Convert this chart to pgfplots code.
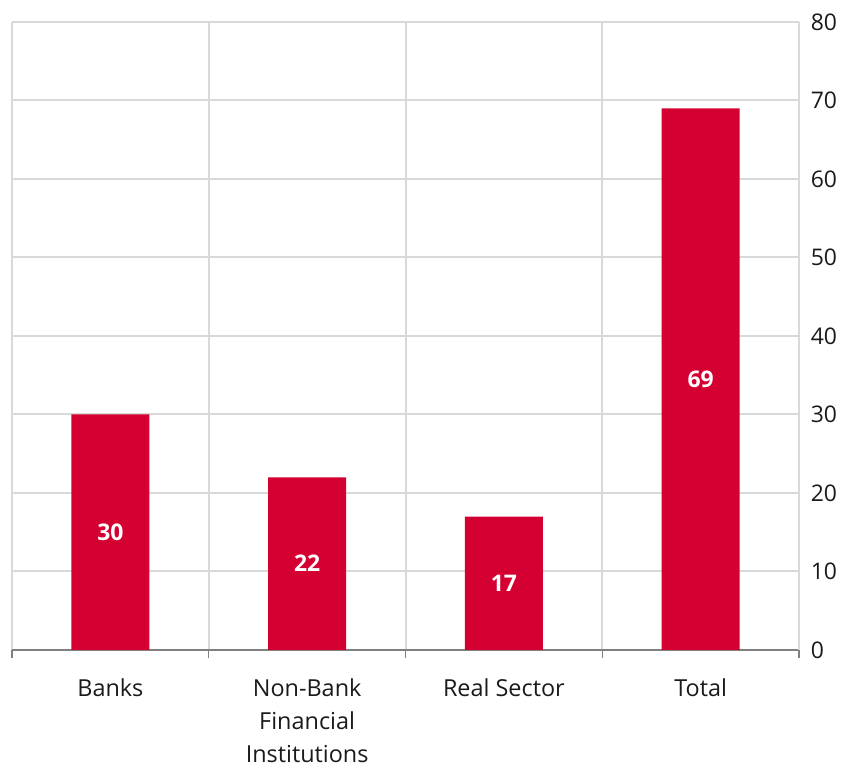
\documentclass[border=0pt]{standalone}
\usepackage{fontspec}
\setmainfont{Open Sans}
\usepackage{pgfplots}
\pgfplotsset{compat=1.18}
\definecolor{barred}{HTML}{D50032}
\definecolor{gridgray}{HTML}{D9D9D9}
\definecolor{axisgray}{HTML}{808080}
\definecolor{txt}{HTML}{1A1A1A}
\begin{document}
\begin{tikzpicture}
\begin{axis}[
  scale only axis,
  width=787bp, height=628bp,
  xmin=-0.5, xmax=3.5,
  ymin=0, ymax=80,
  axis x line*=bottom,
  axis y line*=right,
  y axis line style={draw=gridgray, line width=2bp},
  x axis line style={draw=axisgray, line width=1.3bp},
  xtick={0,1,2,3},
  xticklabels={Banks, {Non-Bank\\Financial\\Institutions}, Real Sector, Total},
  x tick label style={align=center, font=\fontsize{23.5}{33}\selectfont, text=txt, yshift=-21bp},
  major x tick style={draw=none},
  minor xtick={-0.5,0.5,1.5,2.5,3.5},
  minor x tick style={draw=axisgray, line width=1.3bp},
  minor tick length=8bp,
  tick align=outside,
  xminorgrids,
  minor x grid style={draw=gridgray, line width=2bp},
  ytick={0,10,...,80},
  ymajorgrids,
  major y grid style={draw=gridgray, line width=2bp},
  major y tick style={draw=none},
  y tick label style={font=\fontsize{23}{26}\selectfont, text=txt, xshift=4bp},
  /pgf/number format/assume math mode=true,
  clip=false,
]
\addplot[ybar, bar width=78bp, fill=barred, draw=none] coordinates {(0,30) (1,22) (2,17) (3,69)};
\addplot[draw=none, mark=none, nodes near coords, point meta=explicit symbolic,
  every node near coord/.append style={anchor=center, text=white, font=\bfseries\fontsize{23}{26}\selectfont}]
  coordinates {(0,15)[30] (1,11)[22] (2,8.5)[17] (3,34.5)[69]};
\end{axis}
\path[use as bounding box] (current axis.south west) ++(-12bp,-118bp) rectangle ([shift={(60bp,22bp)}]current axis.north east);
\end{tikzpicture}
\end{document}
